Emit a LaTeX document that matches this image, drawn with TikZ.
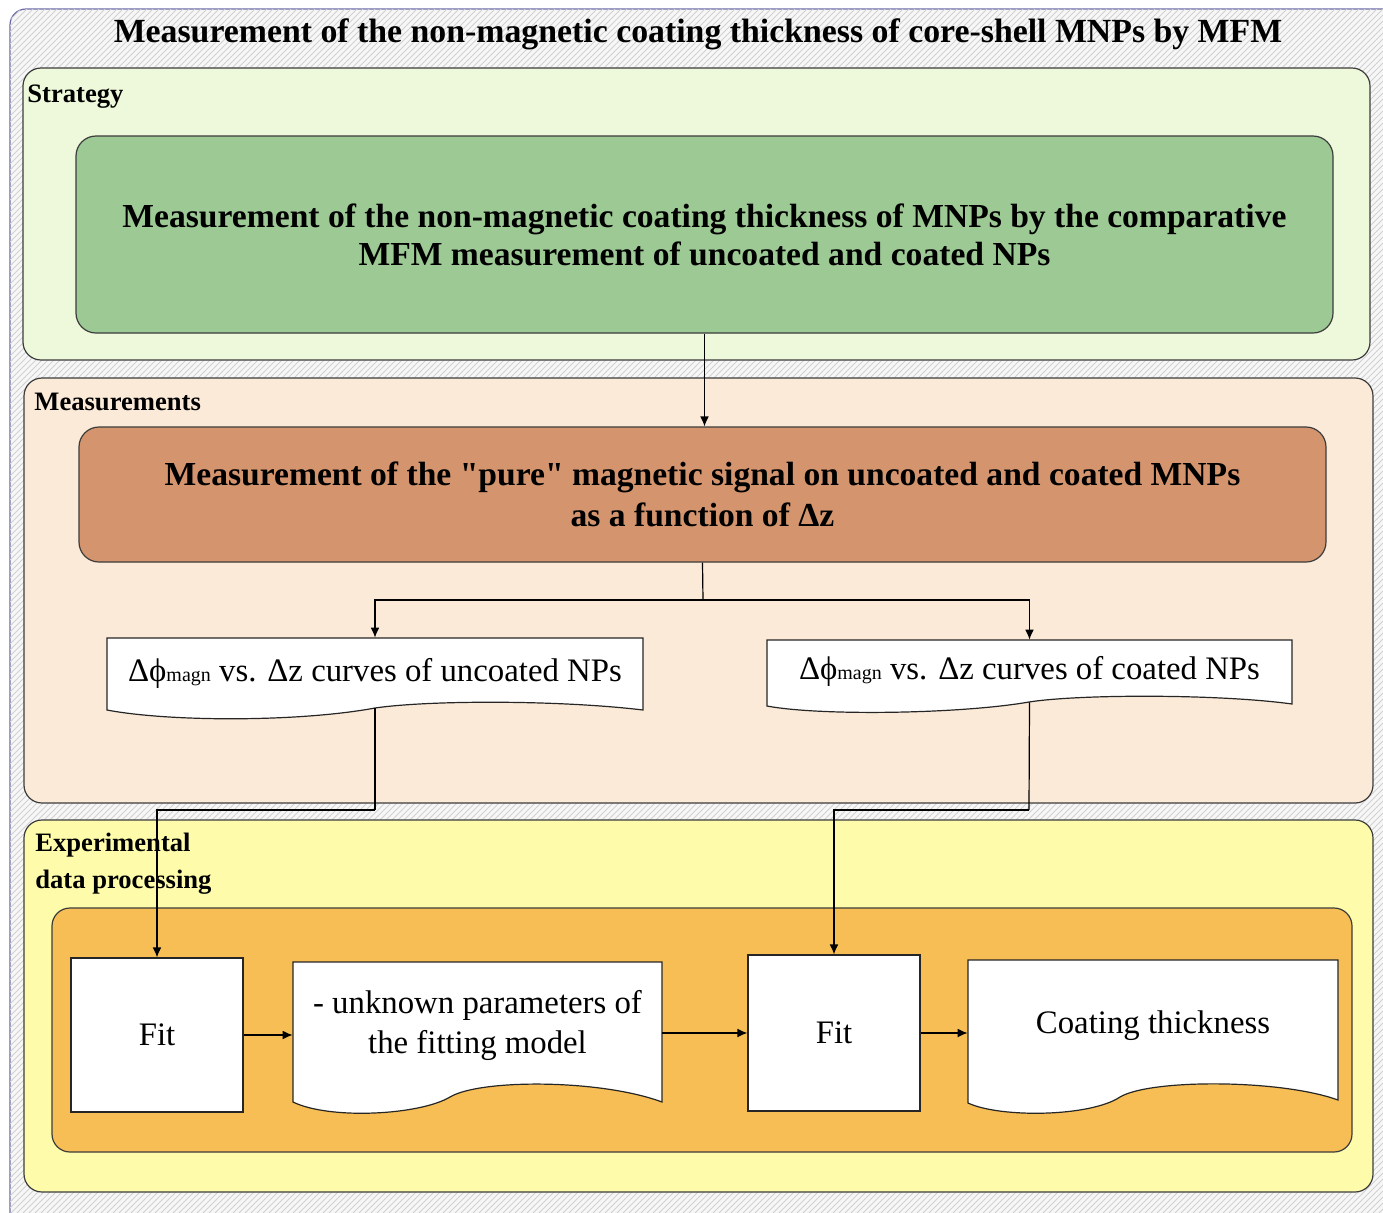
\documentclass[tikz,border=0pt]{standalone}
\usepackage{fontspec}
\setmainfont{Liberation Serif}
\usetikzlibrary{patterns,arrows.meta,calc}
\newcommand\straightq{\XeTeXglyph\numexpr\XeTeXcharglyph"22\relax}
\definecolor{framebd}{HTML}{6A6AA8}
\definecolor{stratbg}{HTML}{EEF8DA}
\definecolor{greenbox}{HTML}{9DC995}
\definecolor{measbg}{HTML}{FBEAD7}
\definecolor{brownbox}{HTML}{D4956E}
\definecolor{expbg}{HTML}{FEFCAA}
\definecolor{orangebox}{HTML}{F7BE55}
\definecolor{panelbd}{HTML}{3C3C3C}
\begin{document}
\begin{tikzpicture}[x=0.5pt,y=-0.5pt,
  panel/.style={draw=panelbd,line width=0.6pt,rounded corners=9pt},
  bigbox/.style={draw=panelbd,line width=0.6pt,rounded corners=10pt,align=center,
    font=\fontsize{16.8}{19}\selectfont\bfseries},
  plabel/.style={anchor=west,inner sep=0pt,align=left,font=\fontsize{13.3}{18.5}\selectfont\bfseries},
  docline/.style={draw=black!85,line width=0.6pt,fill=white},
  doctxt/.style={inner sep=0pt,align=center,font=\fontsize{16.4}{20}\selectfont},
  fitbox/.style={draw=black!85,line width=0.6pt,fill=white,inner sep=0pt,
    minimum width=86pt,minimum height=77pt,font=\fontsize{16.4}{20}\selectfont},
  conn/.style={draw=black,line width=0.6pt},
  arr/.style={conn,-{Latex[length=5pt,width=4.4pt]}}
]
\useasboundingbox (0,0) rectangle (1383,1212);
\clip (0,0) rectangle (1383,1212);
% outer frame
\fill[white] (0,0) rectangle (1383,1212);
\path[draw=framebd,line width=0.6pt,fill=black!3,rounded corners=8pt] (10,9) rectangle (1410,1240);
\path[pattern=north east lines,pattern color=black!18,rounded corners=8pt] (10,9) rectangle (1410,1240);
\node[font=\fontsize{16.9}{19}\selectfont\bfseries] (title) at (698,34)
  {Measurement of the non-magnetic coating thickness of core-shell MNPs by MFM};

% panels
\path[panel,fill=stratbg] (23,68) rectangle (1370,360);
\path[panel,fill=measbg] (24,378) rectangle (1373,803);
\path[panel,fill=expbg] (24,820) rectangle (1373,1192);
\path[panel,fill=orangebox] (52,908) rectangle (1352,1152);

\node[plabel] (lstrat) at (27,97) {Strategy};
\node[plabel] (lmeas) at (34,402) {Measurements};
\node[plabel] (lexp) at (35,864) {Experimental\\data processing};

% strategy box
\node[bigbox,fill=greenbox,minimum width=628.5pt,minimum height=98.5pt] (s) at (704.5,234.5)
  {Measurement of the non-magnetic coating thickness of MNPs by the comparative\\
   MFM measurement of uncoated and coated NPs};

% measurement box
\node[bigbox,fill=brownbox,minimum width=623.5pt,minimum height=67.5pt,
  font=\fontsize{16.8}{20.5}\selectfont\bfseries] (m) at (702.5,494.5)
  {Measurement of the \straightq pure\straightq{} magnetic signal on uncoated and coated MNPs\\
   as a function of Δz};

% document shapes
\path[docline] (107,710) -- (107,638) -- (643,638) -- (643,710)
  .. controls (560,700) and (430,700) .. (375,708)
  .. controls (300,722) and (170,722) .. (107,710) -- cycle;
\path[docline] (767,706) -- (767,640) -- (1292,640) -- (1292,704)
  .. controls (1220,694) and (1080,694) .. (1029,702)
  .. controls (960,714) and (820,716) .. (767,706) -- cycle;
\path[docline] (293,1102) -- (293,962) -- (662,962) -- (662,1102)
  .. controls (600,1079) and (480,1079) .. (450,1097)
  .. controls (420,1115) and (330,1120) .. (293,1102) -- cycle;
\path[docline] (968,1103) -- (968,960) -- (1338,960) -- (1338,1100)
  .. controls (1280,1079) and (1150,1079) .. (1120,1097)
  .. controls (1090,1117) and (1000,1118) .. (968,1103) -- cycle;

\node[doctxt,minimum width=268pt,minimum height=35pt] (d1) at (375,673)
  {Δϕ{\fontsize{10}{12}\selectfont magn} vs. Δz curves of uncoated NPs};
\node[doctxt,minimum width=262.5pt,minimum height=31pt] (d2) at (1029.5,671)
  {Δϕ{\fontsize{10}{12}\selectfont magn} vs. Δz curves of coated NPs};
\node[doctxt,minimum width=184.5pt,minimum height=63pt] (p) at (477.5,1025)
  {- unknown parameters of\\the fitting model};
\node[doctxt,minimum width=185pt,minimum height=66pt] (c) at (1153,1026)
  {Coating thickness};

\node[fitbox] (f1) at (157,1035) {Fit};
\node[fitbox,minimum height=78pt] (f2) at (834,1033) {Fit};

% connectors
\draw[arr] (s.south) -- (s.south |- m.north);
\coordinate (b) at (703,600);
\draw[conn] (m.south) -- (b);
\draw[arr] (b) -| (d1.north);
\draw[arr] (b) -| (d2.north);
\coordinate (j1) at (375,810);
\coordinate (j2) at (1029,810);
\draw[conn] (d1.south) -- (j1);
\draw[arr] (j1) -| (f1.north);
\draw[conn] (d2.south) -- (j2);
\draw[arr] (j2) -| (f2.north);
\draw[arr] (f1.east) -- (f1.east -| p.west);
\draw[arr] (p.east |- f2.west) -- (f2.west);
\draw[arr] (f2.east) -- (f2.east -| c.west);
\end{tikzpicture}
\end{document}
